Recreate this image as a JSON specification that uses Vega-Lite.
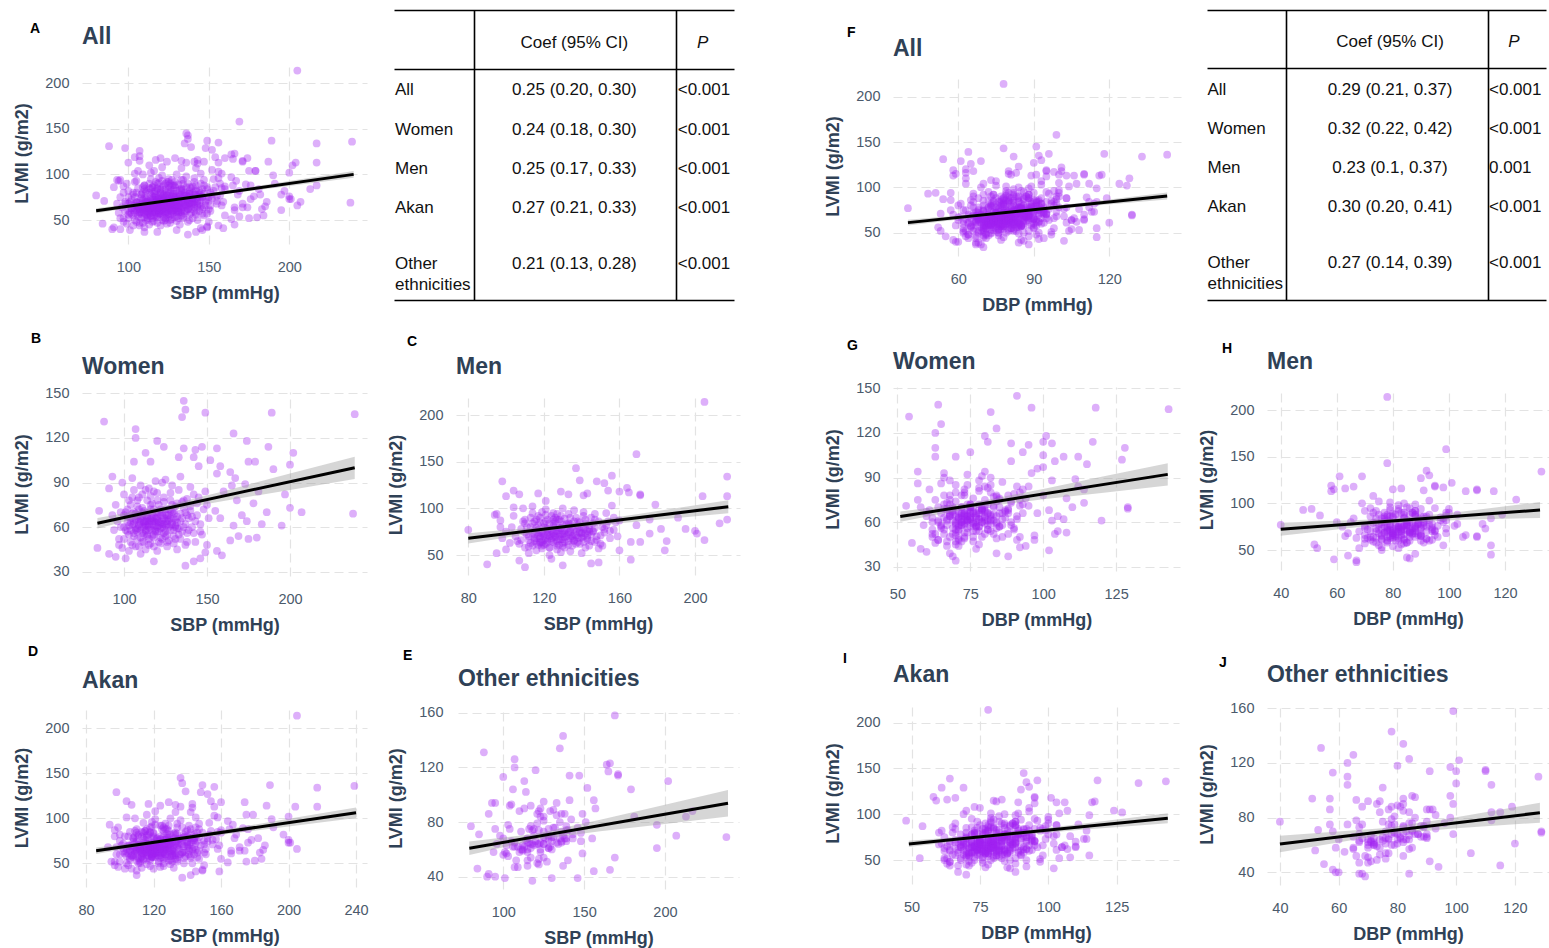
{
"$schema":"https://vega.github.io/schema/vega-lite/v6.json",
"background":"white",
"padding":0,
"data":{"values":"s,d,l,g,e\n88,54,131,W,O\n137,64,139,W,A\n135,82,134,W,O\n136,91,145,W,A\n149,96,137,W,A\n189,118,137,W,A\n239,143,136,W,A\n107,65,126,W,O\n107,63,120,W,O\n166,84,123,W,O\n120,80,118,W,O\n124,81,114,W,A\n113,63,110,W,O\n187,117,114,W,A\n174,101,118,W,A\n202,128,110,W,O\n136,89,113,W,A\n142,93,107,W,A\n147,100,114,W,O\n143,95,112,W,A\n145,89,101,W,A\n152,100,105,W,O\n156,103,113,W,A\n158,104,101,W,A\n167,96,93,W,A\n175,107,104,W,A\n179,112,104,W,O\n190,115,99,W,A\n200,127,102,W,A\n106,63,104,W,O\n116,70,104,W,A\n133,75,107,W,A\n91,57,86,W,O\n93,57,94,W,O\n197,114,82,W,A\n195,120,61,W,O\n200,114,73,W,A\n207,129,70,W,O\n238,129,69,W,O\n186,110,70,W,A\n183,107,62,W,A\n180,108,53,W,A\n175,104,52,W,A\n169,105,54,W,O\n166,103,61,W,A\n174,105,64,W,A\n171,102,68,W,A\n164,97,51,W,A\n159,102,41,W,A\n156,94,44,W,O\n149,92,43,W,A\n142,88,37,W,A\n137,70,34,W,A\n146,84,39,W,O\n118,69,37,W,O\n101,68,39,W,O\n155,95,71,W,A\n149,91,84,W,A\n156,98,96,W,O\n164,100,97,W,A\n160,95,84,W,A\n168,100,78,W,A\n165,103,88,W,A\n173,111,89,W,A\n178,108,76,W,A\n181,112,84,W,O\n150,92,75,W,A\n151,93,66,W,A\n158,98,66,W,A\n146,85,57,W,A\n143,92,50,W,A\n150,97,48,W,A\n84,55,46,W,O\n85,53,71,W,O\n91,58,42,W,O\n95,60,40,W,O\n100,64,60,W,A\n102,66,72,W,A\n103,62,55,W,O\n104,68,66,W,A\n105,70,80,W,A\n105,64,48,W,A\n106,67,62,W,O\n107,72,58,W,A\n108,70,74,W,A\n108,66,52,W,O\n109,74,68,W,A\n110,71,63,W,A\n110,68,88,W,O\n111,69,56,W,A\n112,75,71,W,A\n112,72,60,W,O\n113,70,45,W,A\n114,76,66,W,A\n114,73,78,W,A\n115,70,58,W,O\n115,78,62,W,A\n116,74,72,W,A\n117,77,54,W,O\n117,72,66,W,A\n118,80,84,W,A\n118,74,61,W,A\n119,76,70,W,O\n120,78,57,W,A\n120,73,65,W,A\n121,80,75,W,A\n121,76,50,W,O\n122,79,68,W,A\n123,75,62,W,A\n123,82,90,W,O\n124,80,59,W,A\n125,78,72,W,A\n125,84,64,W,O\n126,81,55,W,A\n127,79,68,W,A\n128,84,78,W,A\n128,80,61,W,O\n129,83,70,W,A\n130,86,58,W,A\n130,81,66,W,O\n131,84,74,W,A\n132,87,63,W,A\n133,82,85,W,O\n134,88,69,W,A\n135,85,57,W,A\n136,89,73,W,O\n137,86,62,W,A\n138,90,79,W,A\n139,88,66,W,O\n140,92,71,W,A\n141,89,60,W,A\n142,93,82,W,O\n143,91,64,W,A\n144,94,76,W,A\n96,60,64,W,O\n97,62,52,W,A\n98,58,70,W,O\n99,63,46,W,A\n100,61,82,W,A\n101,65,58,W,O\n102,60,67,W,A\n103,67,44,W,A\n104,63,75,W,O\n106,71,54,W,A\n107,66,69,W,A\n109,70,47,W,O\n111,73,82,W,A\n113,68,64,W,A\n116,71,49,W,A\n119,79,91,W,A\n122,74,53,W,O\n124,83,77,W,A\n126,76,47,W,A\n129,78,88,W,O\n131,88,52,W,A\n134,80,94,W,A\n137,91,48,W,O\n140,86,87,W,A\n99,66,90,W,A\n94,59,58,W,O\n93,61,68,W,A\n95,57,75,W,O\n97,64,48,W,A\n105,66,93,W,O\n110,77,42,W,A\n115,65,86,W,A\n120,71,44,W,A\n125,74,92,W,A\n127,70,51,W,O\n132,78,45,W,A\n138,84,56,W,A\n112,66,55,W,A\n108,73,59,W,A\n118,70,64,W,O\n121,83,61,W,A\n114,78,54,W,A\n123,72,70,W,A\n116,68,75,W,O\n126,85,66,W,A\n111,75,67,W,A\n119,81,58,W,A\n113,72,62,W,O\n117,75,69,W,A\n105,69,61,W,A\n104,66,63,W,A\n106,69,70,W,A\n107,68,65,W,O\n108,71,57,W,A\n109,67,61,W,A\n110,73,66,W,A\n111,70,60,W,O\n112,74,64,W,A\n112,69,69,W,A\n113,75,57,W,A\n114,71,67,W,O\n114,74,61,W,A\n115,73,64,W,A\n116,76,59,W,A\n116,72,65,W,O\n117,74,62,W,A\n118,76,67,W,A\n118,71,55,W,A\n119,75,63,W,O\n119,78,66,W,A\n120,76,60,W,A\n120,79,69,W,A\n121,74,64,W,O\n121,78,57,W,A\n122,77,63,W,A\n122,75,72,W,A\n123,79,60,W,O\n124,77,66,W,A\n124,74,56,W,A\n125,81,61,W,A\n126,78,68,W,O\n126,75,62,W,A\n127,82,65,W,A\n128,77,58,W,A\n129,80,63,W,A\n130,79,69,W,O\n131,82,61,W,A\n132,80,67,W,A\n133,84,59,W,A\n134,82,64,W,O\n110,70,53,W,A\n112,73,50,W,A\n115,69,52,W,O\n117,76,76,W,A\n120,72,78,W,A\n123,80,52,W,A\n125,76,54,W,O\n106,65,56,W,A\n108,68,78,W,A\n109,72,64,W,A\n111,67,73,W,O\n113,71,58,W,A\n103,64,61,W,A\n102,65,57,W,O\n105,67,69,W,A\n128,83,71,W,A\n130,82,54,W,A\n135,86,66,W,A\n136,84,60,W,A\n138,87,68,W,O\n106,68,64,W,A\n107,70,59,W,A\n108,69,67,W,A\n109,71,62,W,O\n110,72,58,W,A\n110,69,65,W,A\n111,72,70,W,A\n112,71,63,W,O\n113,73,61,W,A\n113,70,68,W,A\n114,75,64,W,A\n115,72,60,W,O\n115,75,70,W,A\n116,73,66,W,A\n117,73,58,W,A\n117,77,64,W,O\n118,75,72,W,A\n119,74,61,W,A\n119,77,57,W,A\n120,75,66,W,O\n121,79,63,W,A\n121,75,70,W,A\n122,76,59,W,A\n123,77,65,W,O\n123,80,68,W,A\n124,78,62,W,A\n125,77,57,W,A\n125,79,69,W,O\n126,80,64,W,A\n127,77,60,W,A\n128,81,66,W,A\n129,82,62,W,O\n130,80,71,W,A\n131,83,65,W,A\n132,82,59,W,A\n104,67,58,W,A\n105,65,66,W,O\n109,68,72,W,A\n114,70,55,W,A\n118,73,53,W,A\n100,63,52,W,A\n101,64,70,W,A\n103,66,78,W,O\n104,62,50,W,A\n106,70,85,W,A\n107,67,47,W,O\n109,73,80,W,A\n111,68,50,W,A\n113,74,85,W,A\n115,71,48,W,O\n116,78,81,W,A\n118,72,47,W,A\n120,81,83,W,A\n122,73,49,W,O\n124,82,80,W,A\n126,79,50,W,A\n128,78,83,W,A\n130,84,49,W,A\n132,85,76,W,O\n134,83,52,W,A\n136,88,78,W,A\n138,86,50,W,A\n140,89,74,W,O\n142,90,56,W,A\n144,88,68,W,A\n146,91,62,W,A\n148,93,72,W,O\n147,90,55,W,A\n145,92,80,W,A\n141,87,67,W,A\n139,89,58,W,A\n137,85,70,W,O\n135,84,77,W,A\n133,81,55,W,A\n131,79,60,W,A\n129,85,75,W,A\n127,81,72,W,A\n102,62,63,W,A\n100,67,68,W,O\n98,62,60,W,A\n205,78,214,M,A\n169,99,158,M,O\n137,78,143,M,O\n98,61,129,M,A\n148,69,129,M,A\n152,90,127,M,A\n156,92,135,M,A\n139,93,130,M,A\n217,133,134,M,A\n164,101,122,M,O\n160,95,118,M,A\n165,98,117,M,O\n171,110,115,M,O\n171,110,114,M,O\n143,83,116,M,A\n133,80,115,M,A\n129,66,118,M,A\n121,73,108,M,A\n117,63,116,M,A\n107,59,115,M,A\n100,58,113,M,O\n104,58,119,M,A\n141,91,114,M,O\n154,95,119,M,A\n204,106,113,M,A\n217,116,113,M,A\n179,124,104,M,A\n156,93,103,M,A\n104,79,101,M,A\n217,119,88,M,O\n191,100,90,M,A\n176,103,88,M,A\n160,99,87,M,A\n95,51,94,M,O\n94,48,93,M,A\n97,54,87,M,A\n90,59,40,M,O\n110,67,37,M,A\n107,64,44,M,A\n149,85,42,M,A\n145,86,41,M,A\n130,67,39,M,O\n124,88,46,M,A\n166,115,45,M,O\n146,82,75,M,A\n169,99,82,M,A\n166,105,64,M,A\n171,110,64,M,A\n176,113,73,M,A\n182,103,78,M,A\n184,115,55,M,A\n185,110,65,M,A\n195,112,78,M,O\n200,102,76,M,A\n201,99,73,M,A\n205,106,66,M,A\n213,115,84,M,O\n80,40,77,M,O\n95,53,52,M,A\n100,52,56,M,O\n160,98,55,M,A\n105,68,70,M,A\n107,70,62,M,O\n108,72,78,M,A\n110,66,84,M,A\n110,74,58,M,O\n111,71,72,M,A\n112,76,66,M,A\n113,73,90,M,O\n114,78,60,M,A\n115,70,76,M,A\n115,80,68,M,O\n116,75,55,M,A\n117,77,82,M,A\n118,72,64,M,A\n118,82,74,M,O\n119,79,96,M,A\n120,74,70,M,A\n120,84,61,M,A\n121,77,86,M,O\n122,80,66,M,A\n122,76,78,M,A\n123,85,58,M,O\n124,78,72,M,A\n124,82,92,M,A\n125,80,64,M,O\n126,86,80,M,A\n126,77,69,M,A\n127,83,56,M,A\n128,79,75,M,O\n128,88,88,M,A\n129,81,67,M,A\n130,84,100,M,A\n130,78,60,M,O\n131,87,73,M,A\n132,82,83,M,A\n133,90,65,M,O\n134,85,77,M,A\n134,80,54,M,A\n135,88,70,M,A\n136,92,86,M,O\n137,84,62,M,A\n138,89,79,M,A\n139,86,68,M,O\n140,94,74,M,A\n141,88,92,M,A\n142,91,58,M,A\n143,85,71,M,O\n144,93,82,M,A\n145,90,65,M,A\n146,96,76,M,O\n147,88,88,M,A\n148,94,70,M,A\n150,92,62,M,A\n151,98,80,M,O\n152,90,74,M,A\n153,95,95,M,A\n155,99,68,M,O\n157,93,77,M,A\n158,97,85,M,A\n103,65,80,M,A\n104,70,92,M,O\n106,63,65,M,A\n109,69,100,M,A\n112,68,52,M,A\n114,75,102,M,O\n116,84,88,M,A\n119,70,57,M,A\n121,88,99,M,A\n123,76,50,M,A\n125,74,84,M,O\n127,90,94,M,A\n129,76,53,M,A\n131,80,89,M,O\n133,94,61,M,A\n136,82,98,M,A\n138,78,64,M,A\n140,82,52,M,O\n142,98,84,M,A\n144,86,60,M,A\n147,100,94,M,A\n149,84,57,M,O\n154,88,86,M,A\n100,62,75,M,A\n102,67,63,M,O\n98,64,68,M,A\n97,60,80,M,A\n112,72,70,M,A\n114,74,73,M,A\n115,76,65,M,O\n116,73,79,M,A\n117,78,71,M,A\n118,75,68,M,A\n119,77,75,M,O\n120,79,72,M,A\n120,76,80,M,A\n121,80,68,M,A\n122,78,74,M,O\n123,81,70,M,A\n124,79,77,M,A\n124,83,66,M,A\n125,82,73,M,O\n126,80,71,M,A\n127,84,76,M,A\n127,79,65,M,A\n128,83,70,M,O\n129,85,79,M,A\n130,82,72,M,A\n130,87,67,M,A\n131,84,76,M,O\n132,86,70,M,A\n133,83,74,M,A\n134,88,68,M,A\n135,86,80,M,O\n136,84,72,M,A\n137,88,75,M,A\n138,86,69,M,A\n139,90,77,M,O\n140,88,73,M,A\n141,92,70,M,A\n142,87,78,M,A\n143,90,68,M,O\n144,92,75,M,A\n118,80,85,M,A\n121,76,62,M,A\n123,84,84,M,O\n126,82,63,M,A\n129,80,86,M,A\n131,88,64,M,A\n133,78,82,M,A\n136,90,66,M,O\n139,84,85,M,A\n141,86,64,M,A\n113,71,63,M,A\n115,79,86,M,A\n117,72,61,M,O\n145,94,72,M,A\n147,91,79,M,A\n150,95,71,M,A\n148,89,66,M,O\n152,94,78,M,A\n110,70,74,M,A\n119,73,64,M,A\n122,85,77,M,A\n125,78,88,M,A\n128,76,61,M,O\n134,91,83,M,A\n115,75,72,M,A\n116,77,68,M,A\n117,75,77,M,O\n118,78,70,M,A\n119,76,73,M,A\n120,80,66,M,A\n121,78,79,M,O\n122,79,71,M,A\n123,82,75,M,A\n124,80,68,M,A\n125,79,81,M,O\n125,83,70,M,A\n126,81,76,M,A\n127,80,73,M,A\n128,84,67,M,O\n128,81,79,M,A\n129,83,72,M,A\n130,85,76,M,A\n131,82,69,M,O\n132,84,78,M,A\n133,86,72,M,A\n134,83,75,M,A\n135,87,68,M,O\n136,85,77,M,A\n137,87,71,M,A\n138,85,82,M,A\n139,88,74,M,O\n140,86,69,M,A\n141,89,78,M,A\n142,90,73,M,A\n118,74,63,M,A\n120,77,84,M,A\n122,83,64,M,O\n126,78,86,M,A\n130,80,63,M,A\n133,89,84,M,A\n136,81,65,M,O\n140,91,80,M,A\n143,88,76,M,A\n127,86,88,M,A\n108,70,66,M,A\n110,75,88,M,A\n112,73,59,M,O\n113,77,80,M,A\n114,72,95,M,A\n116,79,63,M,A\n117,74,92,M,O\n119,82,60,M,A\n121,79,93,M,A\n123,78,58,M,A\n125,86,95,M,O\n127,81,60,M,A\n129,88,92,M,A\n131,85,58,M,A\n133,82,94,M,O\n135,90,60,M,A\n137,83,90,M,A\n139,92,62,M,A\n141,85,96,M,O\n143,95,66,M,A\n145,87,90,M,A\n147,96,64,M,A\n149,90,86,M,O\n151,93,60,M,A\n153,97,82,M,A\n155,91,76,M,A\n157,99,90,M,O\n159,95,70,M,A\n146,92,84,M,A\n144,89,78,M,A\n142,93,88,M,A\n138,91,86,M,O\n134,87,90,M,A\n130,89,82,M,A\n126,84,90,M,A\n122,81,88,M,O\n118,77,90,M,A\n114,76,84,M,A\n111,74,80,M,A\n109,72,86,M,A","format":{"type":"csv","parse":{"s":"number","d":"number","l":"number"}}},
"columns":8,
"bounds":"flush",
"spacing":0,
"config":{
"view":{"stroke":null},
"font":"Liberation Sans",
"title":{"font":"Liberation Sans","fontSize":23,"fontWeight":"bold","color":"#2f4156","anchor":"start","frame":"group","baseline":"alphabetic","offset":0},
"axis":{"domain":false,"ticks":false,"tickSize":0,"grid":true,"gridColor":"#e3e3e3","gridDash":[9,5],"gridWidth":1.2,"labelFont":"Liberation Sans","labelFontSize":14.5,"labelColor":"#4b5a6b","titleFont":"Liberation Sans","titleFontSize":18,"titleFontWeight":"bold","titleColor":"#2f4156"},
"axisX":{"labelPadding":16,"titlePadding":11},
"axisY":{"labelPadding":13,"titlePadding":13}
},
"concat":[
{"width":82,"height":10,"data":{"values":[]},"mark":"point"},
{"width":285,"height":10,"data":{"values":[]},"mark":"point"},
{"width":89,"height":10,"data":{"values":[]},"mark":"point"},
{"width":284,"height":10,"data":{"values":[]},"mark":"point"},
{"width":153,"height":10,"data":{"values":[]},"mark":"point"},
{"width":288,"height":10,"data":{"values":[]},"mark":"point"},
{"width":86,"height":10,"data":{"values":[]},"mark":"point"},
{"width":282,"height":10,"data":{"values":[]},"mark":"point"},

{"width":82,"height":1,"data":{"values":[]},"mark":"point","title":{"text":"A","fontSize":14,"color":"#000000","dx":30,"dy":30}},
{"width":285,"height":234,"title":{"text":"All","dy":43},"resolve":{"axis":{"x":"independent"}},"layer":[
{"mark":{"type":"circle","size":60,"color":"#a020f0","opacity":0.36},"encoding":{"x":{"field":"s","type":"quantitative","title":"SBP (mmHg)","scale":{"domain":[71.2,248.3],"nice":false,"zero":false},"axis":{"values":[100,150,200],"orient":"bottom","grid":false}},"y":{"field":"l","type":"quantitative","title":"LVMI (g/m2)","scale":{"domain":[23.7,223.4],"range":[234,52],"nice":false,"zero":false},"axis":{"values":[50,100,150,200]}}}},
{"data":{"values":[{"x":80,"lo":57.4,"hi":63},{"x":125,"lo":70.1,"hi":72.7},{"x":165,"lo":79.6,"hi":83.2},{"x":200,"lo":87.3,"hi":92.9},{"x":240,"lo":96.3,"hi":103.9}]},"mark":{"type":"area","color":"#999999","opacity":0.4},"encoding":{"x":{"field":"x","type":"quantitative","scale":{"domain":[71.2,248.3],"nice":false,"zero":false},"axis":{"values":[100,150,200],"orient":"top","labels":false,"title":null,"grid":true}},"y":{"field":"lo","type":"quantitative","title":"LVMI (g/m2)","scale":{"domain":[23.7,223.4],"range":[234,52],"nice":false,"zero":false},"axis":{"values":[50,100,150,200]}},"y2":{"field":"hi"}}},
{"data":{"values":[{"x":80,"fit":60.2},{"x":240,"fit":100.1}]},"mark":{"type":"line","color":"#000000","strokeWidth":3},"encoding":{"x":{"field":"x","type":"quantitative","scale":{"domain":[71.2,248.3],"nice":false,"zero":false},"axis":null},"y":{"field":"fit","type":"quantitative","title":"LVMI (g/m2)","scale":{"domain":[23.7,223.4],"range":[234,52],"nice":false,"zero":false},"axis":{"values":[50,100,150,200]}}}}
]},
{"width":89,"height":1,"data":{"values":[]},"mark":"point"},
{"width":284,"height":290,"data":{"values":[{"lab":"All","coef":"0.25 (0.20, 0.30)","p":"<0.001","row":2.05},{"lab":"Women","coef":"0.24 (0.18, 0.30)","p":"<0.001","row":3.05},{"lab":"Men","coef":"0.25 (0.17, 0.33)","p":"<0.001","row":4.05},{"lab":"Akan","coef":"\u00a00.27 (0.21, 0.33)","p":"<0.001","row":5.04},{"lab":"Other\nethnicities","coef":"0.21 (0.13, 0.28)","p":"<0.001","row":6.47}]},"layer":[
{"mark":{"type":"text","align":"left","baseline":"middle","font":"Liberation Sans","fontSize":17,"color":"#111111","lineBreak":"\n","lineHeight":21},"encoding":{"x":{"datum":1,"type":"quantitative","scale":{"domain":[0,340],"range":[-62,278],"nice":false,"zero":false},"axis":{"values":[79.7,281.7],"gridColor":"#000000","gridWidth":1.6,"gridDash":[],"labels":false,"title":null}},"y":{"field":"row","type":"quantitative","scale":{"domain":[0,7.4],"range":[0,290],"nice":false,"zero":false},"axis":{"values":[0,1.505,7.4],"gridColor":"#000000","gridWidth":1.6,"gridDash":[],"labels":false,"title":null}},"text":{"field":"lab"}}},
{"mark":{"type":"text","align":"center","baseline":"middle","font":"Liberation Sans","fontSize":17,"color":"#111111"},"encoding":{"x":{"datum":180.3,"type":"quantitative","scale":{"domain":[0,340],"range":[-62,278],"nice":false,"zero":false},"axis":{"values":[79.7,281.7],"gridColor":"#000000","gridWidth":1.6,"gridDash":[],"labels":false,"title":null}},"y":{"field":"row","type":"quantitative","scale":{"domain":[0,7.4],"range":[0,290],"nice":false,"zero":false},"axis":{"values":[0,1.505,7.4],"gridColor":"#000000","gridWidth":1.6,"gridDash":[],"labels":false,"title":null}},"text":{"field":"coef"}}},
{"mark":{"type":"text","align":"left","baseline":"middle","font":"Liberation Sans","fontSize":17,"color":"#111111"},"encoding":{"x":{"datum":283.7,"type":"quantitative","scale":{"domain":[0,340],"range":[-62,278],"nice":false,"zero":false},"axis":{"values":[79.7,281.7],"gridColor":"#000000","gridWidth":1.6,"gridDash":[],"labels":false,"title":null}},"y":{"field":"row","type":"quantitative","scale":{"domain":[0,7.4],"range":[0,290],"nice":false,"zero":false},"axis":{"values":[0,1.505,7.4],"gridColor":"#000000","gridWidth":1.6,"gridDash":[],"labels":false,"title":null}},"text":{"field":"p"}}},
{"data":{"values":[{"h":"Coef (95% CI)","row":0.83}]},"mark":{"type":"text","align":"center","baseline":"middle","font":"Liberation Sans","fontSize":17,"color":"#111111"},"encoding":{"x":{"datum":180.3,"type":"quantitative","scale":{"domain":[0,340],"range":[-62,278],"nice":false,"zero":false},"axis":{"values":[79.7,281.7],"gridColor":"#000000","gridWidth":1.6,"gridDash":[],"labels":false,"title":null}},"y":{"field":"row","type":"quantitative","scale":{"domain":[0,7.4],"range":[0,290],"nice":false,"zero":false},"axis":{"values":[0,1.505,7.4],"gridColor":"#000000","gridWidth":1.6,"gridDash":[],"labels":false,"title":null}},"text":{"field":"h"}}},
{"data":{"values":[{"h":"P","row":0.83}]},"mark":{"type":"text","align":"center","baseline":"middle","font":"Liberation Sans","fontSize":17,"fontStyle":"italic","color":"#111111"},"encoding":{"x":{"datum":308.7,"type":"quantitative","scale":{"domain":[0,340],"range":[-62,278],"nice":false,"zero":false},"axis":{"values":[79.7,281.7],"gridColor":"#000000","gridWidth":1.6,"gridDash":[],"labels":false,"title":null}},"y":{"field":"row","type":"quantitative","scale":{"domain":[0,7.4],"range":[0,290],"nice":false,"zero":false},"axis":{"values":[0,1.505,7.4],"gridColor":"#000000","gridWidth":1.6,"gridDash":[],"labels":false,"title":null}},"text":{"field":"h"}}}
]},
{"width":153,"height":1,"data":{"values":[]},"mark":"point","title":{"text":"F","fontSize":14,"color":"#000000","dx":107,"dy":34}},
{"width":288,"height":246,"title":{"text":"All","dy":55},"resolve":{"axis":{"x":"independent"}},"layer":[
{"mark":{"type":"circle","size":60,"color":"#a020f0","opacity":0.36},"encoding":{"x":{"field":"d","type":"quantitative","title":"DBP (mmHg)","scale":{"domain":[34.06,148.5],"nice":false,"zero":false},"axis":{"values":[60,90,120],"orient":"bottom","grid":false}},"y":{"field":"l","type":"quantitative","title":"LVMI (g/m2)","scale":{"domain":[24.3,222.8],"range":[246,66],"nice":false,"zero":false},"axis":{"values":[50,100,150,200]}}}},
{"data":{"values":[{"x":40,"lo":57.9,"hi":64.3},{"x":78,"lo":70.6,"hi":73.2},{"x":110,"lo":78.8,"hi":83.2},{"x":143,"lo":86.7,"hi":94.3}]},"mark":{"type":"area","color":"#999999","opacity":0.4},"encoding":{"x":{"field":"x","type":"quantitative","scale":{"domain":[34.06,148.5],"nice":false,"zero":false},"axis":{"values":[60,90,120],"orient":"top","labels":false,"title":null,"grid":true}},"y":{"field":"lo","type":"quantitative","title":"LVMI (g/m2)","scale":{"domain":[24.3,222.8],"range":[246,66],"nice":false,"zero":false},"axis":{"values":[50,100,150,200]}},"y2":{"field":"hi"}}},
{"data":{"values":[{"x":40,"fit":61.1},{"x":143,"fit":90.5}]},"mark":{"type":"line","color":"#000000","strokeWidth":3},"encoding":{"x":{"field":"x","type":"quantitative","scale":{"domain":[34.06,148.5],"nice":false,"zero":false},"axis":null},"y":{"field":"fit","type":"quantitative","title":"LVMI (g/m2)","scale":{"domain":[24.3,222.8],"range":[246,66],"nice":false,"zero":false},"axis":{"values":[50,100,150,200]}}}}
]},
{"width":86,"height":1,"data":{"values":[]},"mark":"point"},
{"width":282,"height":290,"data":{"values":[{"lab":"All","coef":"0.29 (0.21, 0.37)","p":"<0.001","row":2.04},{"lab":"Women","coef":"0.32 (0.22, 0.42)","p":"<0.001","row":3.03},{"lab":"Men","coef":"0.23 (0.1, 0.37)","p":"\u00a00.001","row":4.03},{"lab":"Akan","coef":"0.30 (0.20, 0.41)","p":"<0.001","row":5.02},{"lab":"Other\nethnicities","coef":"0.27 (0.14, 0.39)","p":"<0.001","row":6.45}]},"layer":[
{"mark":{"type":"text","align":"left","baseline":"middle","font":"Liberation Sans","fontSize":17,"color":"#111111","lineBreak":"\n","lineHeight":21},"encoding":{"x":{"datum":0.5,"type":"quantitative","scale":{"domain":[0,339],"range":[-60,279],"nice":false,"zero":false},"axis":{"values":[78.7,280.7],"gridColor":"#000000","gridWidth":1.6,"gridDash":[],"labels":false,"title":null}},"y":{"field":"row","type":"quantitative","scale":{"domain":[0,7.4],"range":[0,290],"nice":false,"zero":false},"axis":{"values":[0,1.48,7.4],"gridColor":"#000000","gridWidth":1.6,"gridDash":[],"labels":false,"title":null}},"text":{"field":"lab"}}},
{"mark":{"type":"text","align":"center","baseline":"middle","font":"Liberation Sans","fontSize":17,"color":"#111111"},"encoding":{"x":{"datum":183,"type":"quantitative","scale":{"domain":[0,339],"range":[-60,279],"nice":false,"zero":false},"axis":{"values":[78.7,280.7],"gridColor":"#000000","gridWidth":1.6,"gridDash":[],"labels":false,"title":null}},"y":{"field":"row","type":"quantitative","scale":{"domain":[0,7.4],"range":[0,290],"nice":false,"zero":false},"axis":{"values":[0,1.48,7.4],"gridColor":"#000000","gridWidth":1.6,"gridDash":[],"labels":false,"title":null}},"text":{"field":"coef"}}},
{"mark":{"type":"text","align":"left","baseline":"middle","font":"Liberation Sans","fontSize":17,"color":"#111111"},"encoding":{"x":{"datum":282,"type":"quantitative","scale":{"domain":[0,339],"range":[-60,279],"nice":false,"zero":false},"axis":{"values":[78.7,280.7],"gridColor":"#000000","gridWidth":1.6,"gridDash":[],"labels":false,"title":null}},"y":{"field":"row","type":"quantitative","scale":{"domain":[0,7.4],"range":[0,290],"nice":false,"zero":false},"axis":{"values":[0,1.48,7.4],"gridColor":"#000000","gridWidth":1.6,"gridDash":[],"labels":false,"title":null}},"text":{"field":"p"}}},
{"data":{"values":[{"h":"Coef (95% CI)","row":0.82}]},"mark":{"type":"text","align":"center","baseline":"middle","font":"Liberation Sans","fontSize":17,"color":"#111111"},"encoding":{"x":{"datum":183,"type":"quantitative","scale":{"domain":[0,339],"range":[-60,279],"nice":false,"zero":false},"axis":{"values":[78.7,280.7],"gridColor":"#000000","gridWidth":1.6,"gridDash":[],"labels":false,"title":null}},"y":{"field":"row","type":"quantitative","scale":{"domain":[0,7.4],"range":[0,290],"nice":false,"zero":false},"axis":{"values":[0,1.48,7.4],"gridColor":"#000000","gridWidth":1.6,"gridDash":[],"labels":false,"title":null}},"text":{"field":"h"}}},
{"data":{"values":[{"h":"P","row":0.82}]},"mark":{"type":"text","align":"center","baseline":"middle","font":"Liberation Sans","fontSize":17,"fontStyle":"italic","color":"#111111"},"encoding":{"x":{"datum":307,"type":"quantitative","scale":{"domain":[0,339],"range":[-60,279],"nice":false,"zero":false},"axis":{"values":[78.7,280.7],"gridColor":"#000000","gridWidth":1.6,"gridDash":[],"labels":false,"title":null}},"y":{"field":"row","type":"quantitative","scale":{"domain":[0,7.4],"range":[0,290],"nice":false,"zero":false},"axis":{"values":[0,1.48,7.4],"gridColor":"#000000","gridWidth":1.6,"gridDash":[],"labels":false,"title":null}},"text":{"field":"h"}}}
]},

{"width":82,"height":1,"data":{"values":[]},"mark":"point","title":{"text":"B","fontSize":14,"color":"#000000","dx":31,"dy":50}},
{"width":285,"height":276,"title":{"text":"Women","dy":83},"resolve":{"axis":{"x":"independent"}},"layer":[
{"transform":[{"filter":"datum.g=='W'"}],"mark":{"type":"circle","size":60,"color":"#a020f0","opacity":0.36},"encoding":{"x":{"field":"s","type":"quantitative","title":"SBP (mmHg)","scale":{"domain":[74.7,246.4],"nice":false,"zero":false},"axis":{"values":[100,150,200],"orient":"bottom","grid":false}},"y":{"field":"l","type":"quantitative","title":"LVMI (g/m2)","scale":{"domain":[27.1,150.9],"range":[276,92],"nice":false,"zero":false},"axis":{"values":[30,60,90,120,150]}}}},
{"data":{"values":[{"x":84,"lo":59.1,"hi":66.1},{"x":123,"lo":70.2,"hi":73.8},{"x":160,"lo":77.6,"hi":84.2},{"x":200,"lo":85,"hi":96},{"x":239,"lo":92.4,"hi":107.4}]},"mark":{"type":"area","color":"#999999","opacity":0.4},"encoding":{"x":{"field":"x","type":"quantitative","scale":{"domain":[74.7,246.4],"nice":false,"zero":false},"axis":{"values":[100,150,200],"orient":"top","labels":false,"title":null,"grid":true}},"y":{"field":"lo","type":"quantitative","title":"LVMI (g/m2)","scale":{"domain":[27.1,150.9],"range":[276,92],"nice":false,"zero":false},"axis":{"values":[30,60,90,120,150]}},"y2":{"field":"hi"}}},
{"data":{"values":[{"x":84,"fit":62.6},{"x":239,"fit":99.9}]},"mark":{"type":"line","color":"#000000","strokeWidth":3},"encoding":{"x":{"field":"x","type":"quantitative","scale":{"domain":[74.7,246.4],"nice":false,"zero":false},"axis":null},"y":{"field":"fit","type":"quantitative","title":"LVMI (g/m2)","scale":{"domain":[27.1,150.9],"range":[276,92],"nice":false,"zero":false},"axis":{"values":[30,60,90,120,150]}}}}
]},
{"width":89,"height":1,"data":{"values":[]},"mark":"point","title":{"text":"C","fontSize":14,"color":"#000000","dx":40,"dy":53}},
{"width":284,"height":275,"title":{"text":"Men","dy":83},"resolve":{"axis":{"x":"independent"}},"layer":[
{"transform":[{"filter":"datum.g=='M'"}],"mark":{"type":"circle","size":60,"color":"#a020f0","opacity":0.36},"encoding":{"x":{"field":"s","type":"quantitative","title":"SBP (mmHg)","scale":{"domain":[73.5,223.8],"nice":false,"zero":false},"axis":{"values":[80,120,160,200],"orient":"bottom","grid":false}},"y":{"field":"l","type":"quantitative","title":"LVMI (g/m2)","scale":{"domain":[28.6,222.5],"range":[275,94],"nice":false,"zero":false},"axis":{"values":[50,100,150,200]}}}},
{"data":{"values":[{"x":80,"lo":62.4,"hi":73.4},{"x":128,"lo":77.7,"hi":81.7},{"x":170,"lo":86,"hi":94},{"x":217.6,"lo":94.8,"hi":108.8}]},"mark":{"type":"area","color":"#999999","opacity":0.4},"encoding":{"x":{"field":"x","type":"quantitative","scale":{"domain":[73.5,223.8],"nice":false,"zero":false},"axis":{"values":[80,120,160,200],"orient":"top","labels":false,"title":null,"grid":true}},"y":{"field":"lo","type":"quantitative","title":"LVMI (g/m2)","scale":{"domain":[28.6,222.5],"range":[275,94],"nice":false,"zero":false},"axis":{"values":[50,100,150,200]}},"y2":{"field":"hi"}}},
{"data":{"values":[{"x":80,"fit":67.9},{"x":217.6,"fit":101.8}]},"mark":{"type":"line","color":"#000000","strokeWidth":3},"encoding":{"x":{"field":"x","type":"quantitative","scale":{"domain":[73.5,223.8],"nice":false,"zero":false},"axis":null},"y":{"field":"fit","type":"quantitative","title":"LVMI (g/m2)","scale":{"domain":[28.6,222.5],"range":[275,94],"nice":false,"zero":false},"axis":{"values":[50,100,150,200]}}}}
]},
{"width":153,"height":1,"data":{"values":[]},"mark":"point","title":{"text":"G","fontSize":14,"color":"#000000","dx":107,"dy":57}},
{"width":287,"height":271,"title":{"text":"Women","dy":78},"resolve":{"axis":{"x":"independent"}},"layer":[
{"transform":[{"filter":"datum.g=='W'"}],"mark":{"type":"circle","size":60,"color":"#a020f0","opacity":0.36},"encoding":{"x":{"field":"d","type":"quantitative","title":"DBP (mmHg)","scale":{"domain":[48.5,146.9],"nice":false,"zero":false},"axis":{"values":[50,75,100,125],"orient":"bottom","grid":false}},"y":{"field":"l","type":"quantitative","title":"LVMI (g/m2)","scale":{"domain":[27.1,150.9],"range":[271,87],"nice":false,"zero":false},"axis":{"values":[30,60,90,120,150]}}}},
{"data":{"values":[{"x":51,"lo":60.2,"hi":67.2},{"x":76,"lo":69.6,"hi":73.2},{"x":100,"lo":75.3,"hi":82.3},{"x":120,"lo":79.5,"hi":90.5},{"x":142.7,"lo":84.6,"hi":99.6}]},"mark":{"type":"area","color":"#999999","opacity":0.4},"encoding":{"x":{"field":"x","type":"quantitative","scale":{"domain":[48.5,146.9],"nice":false,"zero":false},"axis":{"values":[50,75,100,125],"orient":"top","labels":false,"title":null,"grid":true}},"y":{"field":"lo","type":"quantitative","title":"LVMI (g/m2)","scale":{"domain":[27.1,150.9],"range":[271,87],"nice":false,"zero":false},"axis":{"values":[30,60,90,120,150]}},"y2":{"field":"hi"}}},
{"data":{"values":[{"x":51,"fit":63.7},{"x":142.7,"fit":92.1}]},"mark":{"type":"line","color":"#000000","strokeWidth":3},"encoding":{"x":{"field":"x","type":"quantitative","scale":{"domain":[48.5,146.9],"nice":false,"zero":false},"axis":null},"y":{"field":"fit","type":"quantitative","title":"LVMI (g/m2)","scale":{"domain":[27.1,150.9],"range":[271,87],"nice":false,"zero":false},"axis":{"values":[30,60,90,120,150]}}}}
]},
{"width":86,"height":1,"data":{"values":[]},"mark":"point","title":{"text":"H","fontSize":14,"color":"#000000","dx":41,"dy":60}},
{"width":282,"height":270,"title":{"text":"Men","dy":78},"resolve":{"axis":{"x":"independent"}},"layer":[
{"transform":[{"filter":"datum.g=='M'"}],"mark":{"type":"circle","size":60,"color":"#a020f0","opacity":0.36},"encoding":{"x":{"field":"d","type":"quantitative","title":"DBP (mmHg)","scale":{"domain":[35.1,135.7],"nice":false,"zero":false},"axis":{"values":[40,60,80,100,120],"orient":"bottom","grid":false}},"y":{"field":"l","type":"quantitative","title":"LVMI (g/m2)","scale":{"domain":[28.6,222.5],"range":[270,89],"nice":false,"zero":false},"axis":{"values":[50,100,150,200]}}}},
{"data":{"values":[{"x":40,"lo":65.2,"hi":79.2},{"x":80,"lo":78.8,"hi":83.6},{"x":105,"lo":82.3,"hi":91.3},{"x":132.5,"lo":84.4,"hi":101.4}]},"mark":{"type":"area","color":"#999999","opacity":0.4},"encoding":{"x":{"field":"x","type":"quantitative","scale":{"domain":[35.1,135.7],"nice":false,"zero":false},"axis":{"values":[40,60,80,100,120],"orient":"top","labels":false,"title":null,"grid":true}},"y":{"field":"lo","type":"quantitative","title":"LVMI (g/m2)","scale":{"domain":[28.6,222.5],"range":[270,89],"nice":false,"zero":false},"axis":{"values":[50,100,150,200]}},"y2":{"field":"hi"}}},
{"data":{"values":[{"x":40,"fit":72.2},{"x":132.5,"fit":92.9}]},"mark":{"type":"line","color":"#000000","strokeWidth":3},"encoding":{"x":{"field":"x","type":"quantitative","scale":{"domain":[35.1,135.7],"nice":false,"zero":false},"axis":null},"y":{"field":"fit","type":"quantitative","title":"LVMI (g/m2)","scale":{"domain":[28.6,222.5],"range":[270,89],"nice":false,"zero":false},"axis":{"values":[50,100,150,200]}}}}
]},

{"width":82,"height":1,"data":{"values":[]},"mark":"point","title":{"text":"D","fontSize":14,"color":"#000000","dx":28,"dy":87}},
{"width":285,"height":311,"title":{"text":"Akan","dy":121},"resolve":{"axis":{"x":"independent"}},"layer":[
{"transform":[{"filter":"datum.e=='A'"}],"mark":{"type":"circle","size":60,"color":"#a020f0","opacity":0.36},"encoding":{"x":{"field":"s","type":"quantitative","title":"SBP (mmHg)","scale":{"domain":[77.6,246.5],"nice":false,"zero":false},"axis":{"values":[80,120,160,200,240],"orient":"bottom","grid":false}},"y":{"field":"l","type":"quantitative","title":"LVMI (g/m2)","scale":{"domain":[23.7,222.6],"range":[311,132],"nice":false,"zero":false},"axis":{"values":[50,100,150,200]}}}},
{"data":{"values":[{"x":86,"lo":60.5,"hi":67.5},{"x":125,"lo":73.1,"hi":76.3},{"x":165,"lo":82.8,"hi":88.4},{"x":200,"lo":91,"hi":99.4},{"x":240,"lo":100.4,"hi":112}]},"mark":{"type":"area","color":"#999999","opacity":0.4},"encoding":{"x":{"field":"x","type":"quantitative","scale":{"domain":[77.6,246.5],"nice":false,"zero":false},"axis":{"values":[80,120,160,200,240],"orient":"top","labels":false,"title":null,"grid":true}},"y":{"field":"lo","type":"quantitative","title":"LVMI (g/m2)","scale":{"domain":[23.7,222.6],"range":[311,132],"nice":false,"zero":false},"axis":{"values":[50,100,150,200]}},"y2":{"field":"hi"}}},
{"data":{"values":[{"x":86,"fit":64},{"x":240,"fit":106.2}]},"mark":{"type":"line","color":"#000000","strokeWidth":3},"encoding":{"x":{"field":"x","type":"quantitative","scale":{"domain":[77.6,246.5],"nice":false,"zero":false},"axis":null},"y":{"field":"fit","type":"quantitative","title":"LVMI (g/m2)","scale":{"domain":[23.7,222.6],"range":[311,132],"nice":false,"zero":false},"axis":{"values":[50,100,150,200]}}}}
]},
{"width":89,"height":1,"data":{"values":[]},"mark":"point","title":{"text":"E","fontSize":14,"color":"#000000","dx":36,"dy":91}},
{"width":283,"height":313,"title":{"text":"Other ethnicities","dy":119,"dx":2},"resolve":{"axis":{"x":"independent"}},"layer":[
{"transform":[{"filter":"datum.e=='O'"}],"mark":{"type":"circle","size":60,"color":"#a020f0","opacity":0.36},"encoding":{"x":{"field":"s","type":"quantitative","title":"SBP (mmHg)","scale":{"domain":[72,245.8],"range":[2,283],"nice":false,"zero":false},"axis":{"values":[100,150,200],"orient":"bottom","grid":false}},"y":{"field":"l","type":"quantitative","title":"LVMI (g/m2)","scale":{"domain":[31,164.2],"range":[313,131],"nice":false,"zero":false},"axis":{"values":[40,80,120,160]}}}},
{"data":{"values":[{"x":79,"lo":55.9,"hi":65.7},{"x":120,"lo":67,"hi":71.4},{"x":160,"lo":73.2,"hi":81.6},{"x":200,"lo":78.6,"hi":92.6},{"x":239,"lo":84,"hi":103.4}]},"mark":{"type":"area","color":"#999999","opacity":0.4},"encoding":{"x":{"field":"x","type":"quantitative","scale":{"domain":[72,245.8],"range":[2,283],"nice":false,"zero":false},"axis":{"values":[100,150,200],"orient":"top","labels":false,"title":null,"grid":true}},"y":{"field":"lo","type":"quantitative","title":"LVMI (g/m2)","scale":{"domain":[31,164.2],"range":[313,131],"nice":false,"zero":false},"axis":{"values":[40,80,120,160]}},"y2":{"field":"hi"}}},
{"data":{"values":[{"x":79,"fit":60.8},{"x":239,"fit":93.7}]},"mark":{"type":"line","color":"#000000","strokeWidth":3},"encoding":{"x":{"field":"x","type":"quantitative","scale":{"domain":[72,245.8],"range":[2,283],"nice":false,"zero":false},"axis":null},"y":{"field":"fit","type":"quantitative","title":"LVMI (g/m2)","scale":{"domain":[31,164.2],"range":[313,131],"nice":false,"zero":false},"axis":{"values":[40,80,120,160]}}}}
]},
{"width":153,"height":1,"data":{"values":[]},"mark":"point","title":{"text":"I","fontSize":14,"color":"#000000","dx":103,"dy":94}},
{"width":286,"height":308,"title":{"text":"Akan","dy":115},"resolve":{"axis":{"x":"independent"}},"layer":[
{"transform":[{"filter":"datum.e=='A'"}],"mark":{"type":"circle","size":60,"color":"#a020f0","opacity":0.36},"encoding":{"x":{"field":"d","type":"quantitative","title":"DBP (mmHg)","scale":{"domain":[43.2,147.8],"nice":false,"zero":false},"axis":{"values":[50,75,100,125],"orient":"bottom","grid":false}},"y":{"field":"l","type":"quantitative","title":"LVMI (g/m2)","scale":{"domain":[23.8,222.6],"range":[308,126],"nice":false,"zero":false},"axis":{"values":[50,100,150,200]}}}},
{"data":{"values":[{"x":49,"lo":64.1,"hi":71.1},{"x":78,"lo":74.5,"hi":77.7},{"x":110,"lo":82.4,"hi":88.8},{"x":143.7,"lo":90.1,"hi":101.1}]},"mark":{"type":"area","color":"#999999","opacity":0.4},"encoding":{"x":{"field":"x","type":"quantitative","scale":{"domain":[43.2,147.8],"nice":false,"zero":false},"axis":{"values":[50,75,100,125],"orient":"top","labels":false,"title":null,"grid":true}},"y":{"field":"lo","type":"quantitative","title":"LVMI (g/m2)","scale":{"domain":[23.8,222.6],"range":[308,126],"nice":false,"zero":false},"axis":{"values":[50,100,150,200]}},"y2":{"field":"hi"}}},
{"data":{"values":[{"x":49,"fit":67.6},{"x":143.7,"fit":95.6}]},"mark":{"type":"line","color":"#000000","strokeWidth":3},"encoding":{"x":{"field":"x","type":"quantitative","scale":{"domain":[43.2,147.8],"nice":false,"zero":false},"axis":null},"y":{"field":"fit","type":"quantitative","title":"LVMI (g/m2)","scale":{"domain":[23.8,222.6],"range":[308,126],"nice":false,"zero":false},"axis":{"values":[50,100,150,200]}}}}
]},
{"width":86,"height":1,"data":{"values":[]},"mark":"point","title":{"text":"J","fontSize":14,"color":"#000000","dx":38,"dy":98}},
{"width":282,"height":309,"title":{"text":"Other ethnicities","dy":115},"resolve":{"axis":{"x":"independent"}},"layer":[
{"transform":[{"filter":"datum.e=='O'"}],"mark":{"type":"circle","size":60,"color":"#a020f0","opacity":0.36},"encoding":{"x":{"field":"d","type":"quantitative","title":"DBP (mmHg)","scale":{"domain":[35.6,131.6],"nice":false,"zero":false},"axis":{"values":[40,60,80,100,120],"orient":"bottom","grid":false}},"y":{"field":"l","type":"quantitative","title":"LVMI (g/m2)","scale":{"domain":[30.7,163.9],"range":[309,127],"nice":false,"zero":false},"axis":{"values":[40,80,120,160]}}}},
{"data":{"values":[{"x":40,"lo":54.7,"hi":66.7},{"x":76,"lo":67.6,"hi":72.4},{"x":100,"lo":72.3,"hi":80.3},{"x":128.5,"lo":76.3,"hi":90.9}]},"mark":{"type":"area","color":"#999999","opacity":0.4},"encoding":{"x":{"field":"x","type":"quantitative","scale":{"domain":[35.6,131.6],"nice":false,"zero":false},"axis":{"values":[40,60,80,100,120],"orient":"top","labels":false,"title":null,"grid":true}},"y":{"field":"lo","type":"quantitative","title":"LVMI (g/m2)","scale":{"domain":[30.7,163.9],"range":[309,127],"nice":false,"zero":false},"axis":{"values":[40,80,120,160]}},"y2":{"field":"hi"}}},
{"data":{"values":[{"x":40,"fit":60.7},{"x":128.5,"fit":83.6}]},"mark":{"type":"line","color":"#000000","strokeWidth":3},"encoding":{"x":{"field":"x","type":"quantitative","scale":{"domain":[35.6,131.6],"nice":false,"zero":false},"axis":null},"y":{"field":"fit","type":"quantitative","title":"LVMI (g/m2)","scale":{"domain":[30.7,163.9],"range":[309,127],"nice":false,"zero":false},"axis":{"values":[40,80,120,160]}}}}
]}
]
}
